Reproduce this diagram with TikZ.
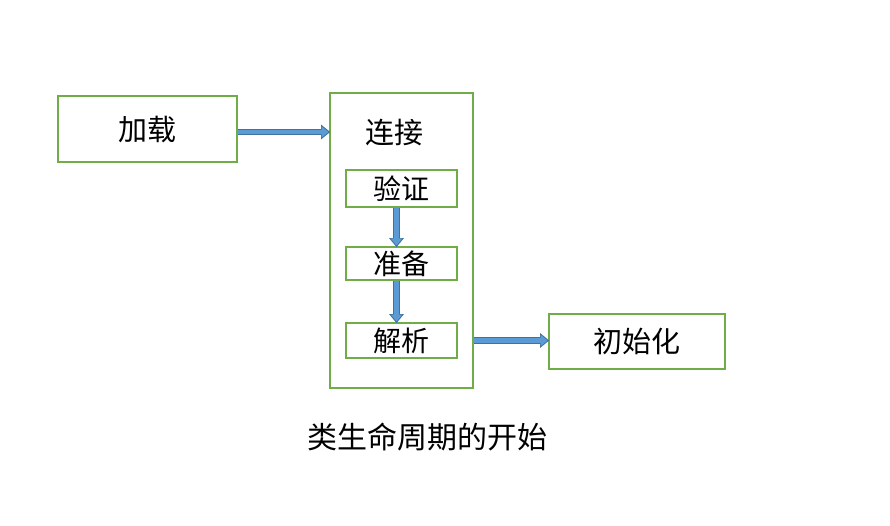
\documentclass[tikz,border=0pt]{standalone}
\usepackage{fontspec}
\setmainfont{Noto Sans CJK SC}
\usetikzlibrary{arrows.meta}
\definecolor{boxgreen}{RGB}{112,173,71}
\definecolor{flowblue}{RGB}{91,155,213}
\definecolor{flowedge}{RGB}{65,113,156}

\begin{document}
\begin{tikzpicture}[x=1pt,y=-1pt,stage/.style={draw=boxgreen,line width=1.6pt,fill=white,inner sep=0pt,font=\fontsize{29}{32}\selectfont},substage/.style={stage,minimum width=111pt,font=\fontsize{28}{30}\selectfont},flow/.style={-{Triangle[length=9pt,width=14pt]},line width=6.5pt,flowedge,shorten >=-1pt},flowin/.style={-{Triangle[length=7pt,width=11pt]},line width=4.5pt,flowblue,shorten >=0.7pt}]
\useasboundingbox (0,0) rectangle (890,526);
\node[stage,minimum width=179pt,minimum height=66pt] (load) at (147.5,129) {加载};
\node[stage,minimum width=143pt,minimum height=295pt] (link) at (401.5,240.5) {};
\node[font=\fontsize{29}{32}\selectfont] (linklabel) at (394,133) {连接};
\node[substage,minimum height=37pt] (verify) at (401.5,188.5) {验证};
\node[substage,minimum height=33pt] (prepare) at (401.5,263.5) {准备};
\node[substage,minimum height=35pt] (resolve) at (401.5,340.5) {解析};
\node[stage,minimum width=176pt,minimum height=55pt] (init) at (637,341.5) {初始化};
\node[font=\fontsize{30}{34}\selectfont] (caption) at (427,437) {类生命周期的开始};
\draw[flow] ([yshift=-3pt]load.east) -- ([yshift=-3pt]link.west |- load.east);
\draw[flowin] ([yshift=-3pt]load.east) -- ([yshift=-3pt]link.west |- load.east);
\draw[flow] ([xshift=-5pt]verify.south) -- ([xshift=-5pt]prepare.north);
\draw[flowin] ([xshift=-5pt]verify.south) -- ([xshift=-5pt]prepare.north);
\draw[flow] ([xshift=-5pt]prepare.south) -- ([xshift=-5pt]resolve.north);
\draw[flowin] ([xshift=-5pt]prepare.south) -- ([xshift=-5pt]resolve.north);
\draw[flow] (link.east |- resolve) -- (init.west |- resolve);
\draw[flowin] (link.east |- resolve) -- (init.west |- resolve);
\end{tikzpicture}
\end{document}
